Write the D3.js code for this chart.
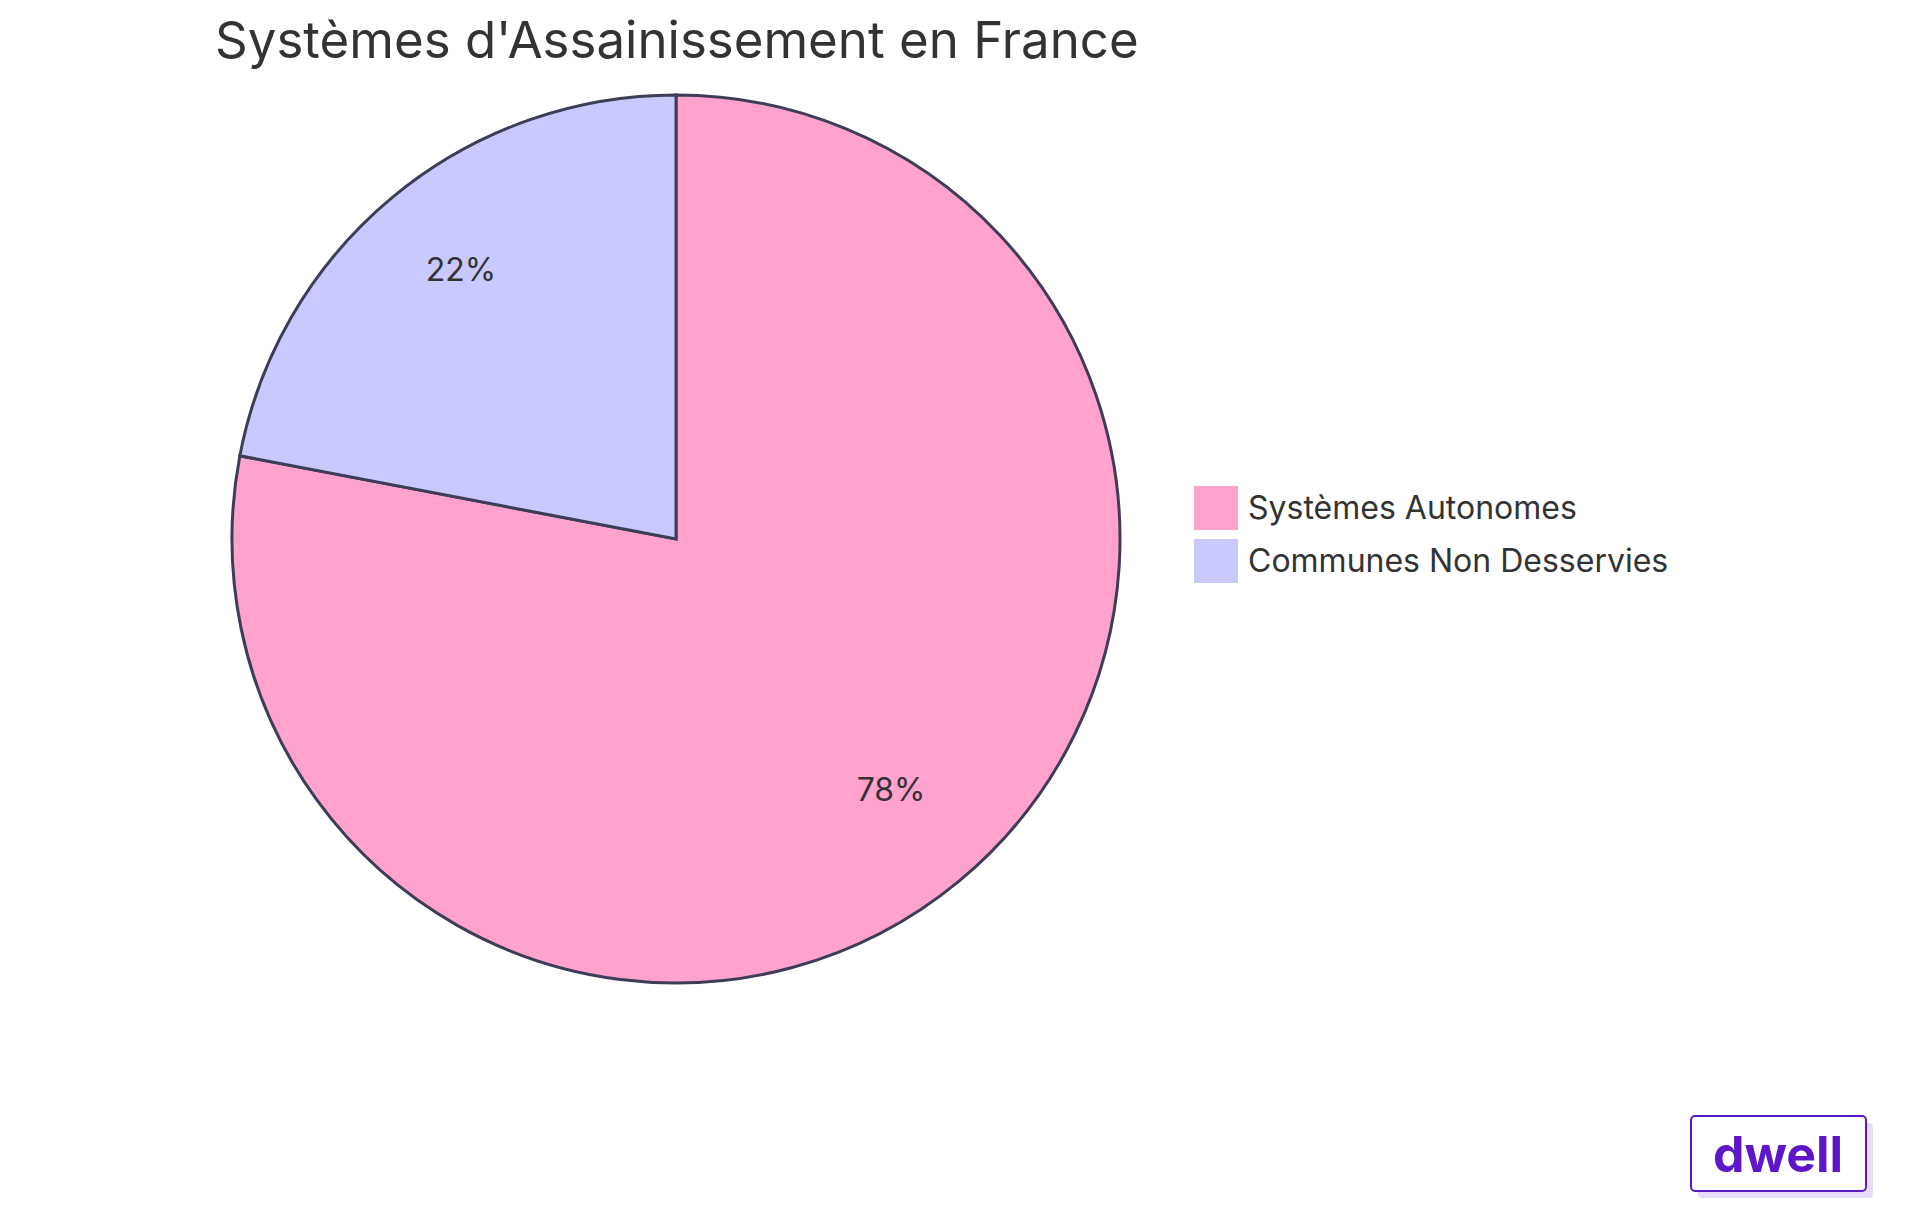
<!DOCTYPE html>
<html><head><meta charset="utf-8">
<script src="https://cdn.jsdelivr.net/npm/d3@7"></script>
<style>body{margin:0;background:#fff}svg{display:block;font-family:Inter,"Noto Sans",sans-serif}</style>
</head><body><svg id="chart" width="1920" height="1215"></svg>
<script>
const title = "Systèmes d'Assainissement en France";
const categories = ["Systèmes Autonomes", "Communes Non Desservies"];
const values = [78, 22];
const colors = ["#FFA2CD", "#C9C9FF"];

const svg = d3.select("#chart");
const cx = 676, cy = 539, r = 444;

svg.append("text").attr("x", 215).attr("y", 58)
  .attr("font-size", 51).attr("fill", "#333").text(title);

const pie = d3.pie().sort(null)(values);
const arc = d3.arc().innerRadius(0).outerRadius(r);
const labelArc = d3.arc().innerRadius(r * 0.76).outerRadius(r * 0.76);
const g = svg.append("g").attr("transform", `translate(${cx},${cy})`);
g.selectAll("path").data(pie).join("path")
  .attr("d", arc).attr("fill", (d, i) => colors[i])
  .attr("stroke", "#3d3d57").attr("stroke-width", 3);
g.selectAll("text").data(pie).join("text")
  .attr("transform", d => `translate(${labelArc.centroid(d)})`)
  .attr("text-anchor", "middle").attr("dy", "0.05em")
  .attr("font-size", 32).attr("fill", "#333")
  .text(d => d.data + "%");

const leg = svg.append("g").attr("transform", "translate(1194,486)");
categories.forEach((c, i) => {
  const row = leg.append("g").attr("transform", `translate(0,${i * 53})`);
  row.append("rect").attr("width", 44).attr("height", 44).attr("fill", colors[i]);
  row.append("text").attr("x", 54).attr("y", 22).attr("dy", "0.35em")
    .attr("font-size", 32).attr("fill", "#333").text(c);
});

// logo
const logo = svg.append("g").attr("transform", "translate(1691,1116)");
logo.append("rect").attr("x", 7).attr("y", 7).attr("width", 175).attr("height", 75)
  .attr("rx", 4).attr("fill", "#e8dcf8");
logo.append("rect").attr("width", 175).attr("height", 75).attr("rx", 4)
  .attr("fill", "#fff").attr("stroke", "#5e17c8").attr("stroke-width", 2);
logo.append("text").attr("x", 87).attr("y", 38).attr("dy", "0.35em")
  .attr("text-anchor", "middle").attr("font-size", 50).attr("font-weight", 700)
  .attr("fill", "#5e17c8").text("dwell");
</script></body></html>
